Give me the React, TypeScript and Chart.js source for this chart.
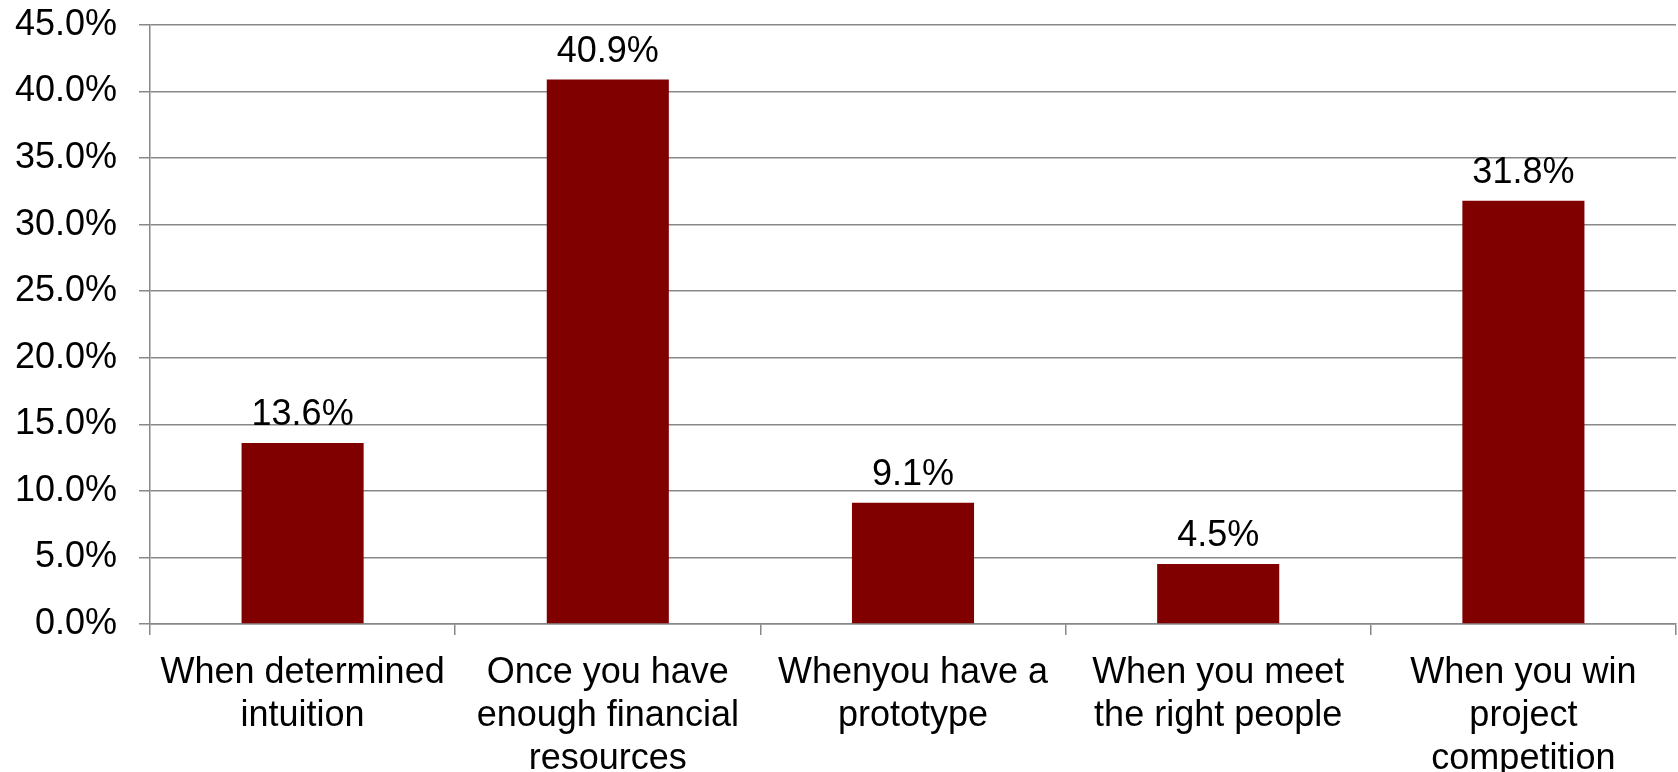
import React, { useEffect, useRef } from "react";
import { Chart, registerables } from "chart.js";

Chart.register(...registerables);

const categories: string[][] = [
  ["When determined", "intuition"],
  ["Once you have", "enough financial", "resources"],
  ["Whenyou have a", "prototype"],
  ["When you meet", "the right people"],
  ["When you win", "project", "competition"],
];
const values: number[] = [13.6, 40.9, 9.1, 4.5, 31.8];
const yTicks: number[] = [0, 5, 10, 15, 20, 25, 30, 35, 40, 45];

const FONT = "'Liberation Sans', Arial, sans-serif";
const GRID = "#888888";
const BAR = "#800000";

const labelPlugin = {
  id: "barValueLabels",
  afterDatasetsDraw(chart: any) {
    const ctx = chart.ctx;
    const meta = chart.getDatasetMeta(0);
    ctx.save();
    ctx.font = `36px ${FONT}`;
    ctx.fillStyle = "#000000";
    ctx.textAlign = "center";
    ctx.textBaseline = "alphabetic";
    meta.data.forEach((bar: any, i: number) => {
      ctx.fillText(values[i].toFixed(1) + "%", bar.x, bar.y - 18);
    });
    ctx.restore();
  },
};

export default function App() {
  const ref = useRef<HTMLCanvasElement | null>(null);
  useEffect(() => {
    if (!ref.current) return;
    const chart = new Chart(ref.current, {
      type: "bar",
      data: {
        labels: categories,
        datasets: [
          {
            data: values,
            backgroundColor: BAR,
            borderWidth: 0,
            barPercentage: 0.4,
            categoryPercentage: 1,
          },
        ],
      },
      options: {
        responsive: false,
        animation: false,
        layout: { padding: { top: 25, right: 2, left: 0, bottom: 0 } },
        plugins: {
          legend: { display: false },
          tooltip: { enabled: false },
        },
        scales: {
          x: {
            grid: {
              offset: true,
              drawOnChartArea: false,
              drawTicks: true,
              tickLength: 11,
              color: GRID,
              lineWidth: 1.5,
            },
            border: { color: GRID, width: 1.5 },
            ticks: {
              color: "#000000",
              font: { family: FONT, size: 36, lineHeight: 1.2 },
              padding: 16,
              maxRotation: 0,
              autoSkip: false,
            },
            afterFit(scale: any) {
              scale.height = 148;
            },
          },
          y: {
            min: 0,
            max: 45,
            afterBuildTicks(scale: any) {
              scale.ticks = yTicks.map((v) => ({ value: v }));
            },
            grid: {
              color: GRID,
              lineWidth: 1.5,
              drawTicks: true,
              tickLength: 11,
            },
            border: { color: GRID, width: 1.5 },
            ticks: {
              color: "#000000",
              font: { family: FONT, size: 36 },
              padding: 22,
              callback: (v: any) => Number(v).toFixed(1) + "%",
            },
            afterFit(scale: any) {
              scale.width = 150;
              scale.paddingTop = 0;
              scale.paddingBottom = 0;
            },
          },
        },
      },
      plugins: [labelPlugin],
    });
    return () => chart.destroy();
  }, []);
  return (
    <canvas
      ref={ref}
      width={1678}
      height={772}
      style={{ position: "absolute", left: 0, top: 0, display: "block", background: "#ffffff" }}
    />
  );
}
